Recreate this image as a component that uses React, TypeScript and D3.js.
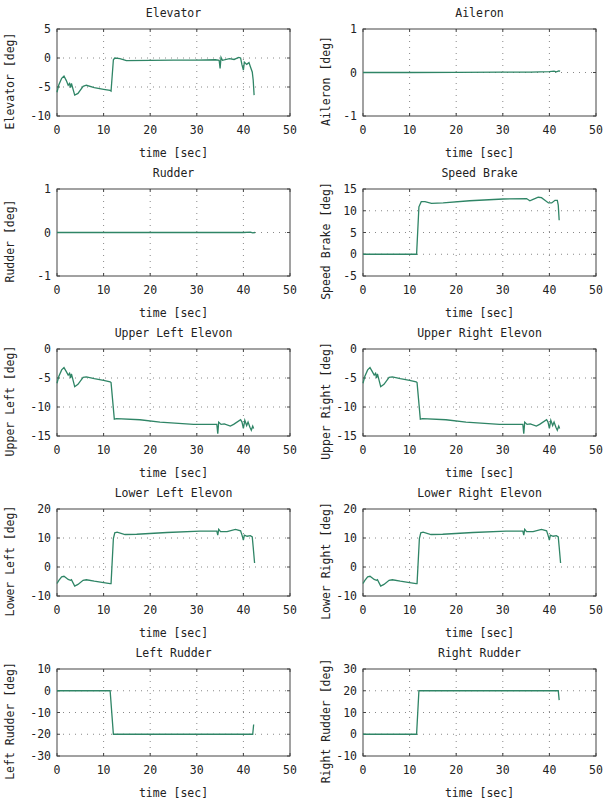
import React from "react";
import * as d3 from "d3";

// time [sec] / deflection [deg] pairs
const elevatorT = [0, 0.4, 1.0, 1.5, 2.0, 2.4, 2.7, 2.9, 3.1, 3.8, 4.5, 5.6, 6.3, 8.0, 10.0, 11.4, 11.6, 12.1, 12.4, 13.5, 14.9, 20, 25, 30, 34.0, 34.8, 35.0, 35.2, 35.5, 37.0, 38.0, 39.0, 39.4, 39.7, 40.0, 40.2, 40.7, 41.2, 41.5, 41.9, 42.1, 42.3];
const elevatorV = [-5.9, -4.6, -3.5, -3.1, -3.9, -4.7, -4.4, -5.1, -4.4, -6.4, -6.1, -4.9, -4.7, -5.1, -5.4, -5.6, -5.7, -0.3, 0, -0.1, -0.45, -0.4, -0.35, -0.35, -0.3, -0.4, -1.8, 0.1, -0.4, -0.1, -0.25, 0.1, 0, -1.2, -2.1, -0.7, -1.1, -0.8, -1.5, -2.4, -3.8, -6.4];

const aileronT = [0, 10, 20, 30, 36, 38, 40, 41, 41.5, 42, 42.3];
const aileronV = [0, 0, 0.005, 0.01, 0.01, 0.015, 0.02, 0.03, 0.015, 0.035, 0.03];

const rudderT = [0, 20, 40, 41.5, 42.0, 42.5];
const rudderV = [0, 0, 0, 0.01, -0.01, 0];

const speedBrakeT = [0, 11.5, 12.0, 12.5, 13.3, 14.7, 17.2, 22.9, 30.1, 35.1, 35.8, 36.5, 37.6, 38.3, 39.8, 40.5, 41.2, 41.7, 41.9, 42.1];
const speedBrakeV = [0, 0, 10.9, 12.1, 12.1, 11.7, 11.8, 12.3, 12.7, 12.8, 12.3, 12.6, 13.1, 13.0, 11.8, 11.8, 12.4, 12.4, 11.3, 7.8];

const upperT = [0, 0.4, 1.0, 1.5, 2.0, 2.4, 2.7, 2.9, 3.1, 3.8, 4.5, 5.6, 6.3, 8.0, 10.0, 11.4, 11.6, 12.3, 12.8, 17.8, 22.1, 29.3, 34.3, 34.5, 34.7, 35.2, 35.9, 37.2, 37.9, 39.4, 39.7, 40.0, 40.3, 40.7, 41.0, 41.4, 41.7, 42.0, 42.2];
const upperLeftV = [-5.9, -4.7, -3.6, -3.2, -3.9, -4.5, -4.2, -5.0, -4.3, -6.5, -6.1, -4.9, -4.8, -5.1, -5.4, -5.65, -5.8, -12.1, -12.0, -12.2, -12.6, -13.0, -13.0, -14.6, -12.6, -13.0, -12.9, -13.3, -13.0, -12.2, -12.6, -13.7, -12.3, -13.2, -12.6, -13.5, -14.0, -13.3, -13.7];
const upperRightV = [-5.9, -4.7, -3.6, -3.2, -3.9, -4.5, -4.2, -5.0, -4.3, -6.5, -6.1, -4.9, -4.8, -5.1, -5.4, -5.65, -5.8, -12.1, -12.0, -12.2, -12.6, -13.0, -13.0, -14.6, -12.6, -13.0, -12.9, -13.3, -13.0, -12.2, -12.6, -13.7, -12.3, -13.2, -12.6, -13.5, -14.0, -13.3, -13.7];

const lowerT = [0, 0.4, 1.0, 1.5, 2.0, 2.4, 2.9, 3.1, 3.8, 4.5, 5.6, 6.3, 8.0, 10.0, 11.4, 11.6, 12.1, 12.4, 12.9, 14.6, 17.1, 23.6, 30.7, 34.3, 34.5, 34.7, 35.1, 36.5, 38.3, 39.4, 39.7, 40.0, 40.2, 40.8, 41.5, 41.9, 42.1, 42.4];
const lowerLeftV = [-5.7, -4.6, -3.4, -3.2, -3.8, -4.3, -4.6, -4.4, -6.6, -6.0, -4.6, -4.4, -4.9, -5.4, -5.7, -5.7, 9.8, 11.8, 12.0, 11.2, 11.3, 11.9, 12.4, 12.4, 11.0, 13.0, 12.2, 12.2, 13.0, 12.5, 11.0, 9.3, 11.0, 10.6, 10.8, 10.4, 6.9, 1.4];
const lowerRightV = [-5.7, -4.6, -3.4, -3.2, -3.8, -4.3, -4.6, -4.4, -6.6, -6.0, -4.6, -4.4, -4.9, -5.4, -5.7, -5.7, 9.8, 11.8, 12.0, 11.2, 11.3, 11.9, 12.4, 12.4, 11.0, 13.0, 12.2, 12.2, 13.0, 12.5, 11.0, 9.3, 11.0, 10.6, 10.8, 10.4, 6.9, 1.4];

const leftRudderT = [0, 11.4, 12.1, 42.0, 42.2];
const leftRudderV = [0, 0, -20, -20, -15.5];

const rightRudderT = [0, 11.5, 12.0, 41.9, 42.1];
const rightRudderV = [0, 0, 20, 20, 15.7];

const titles = ["Elevator", "Aileron", "Rudder", "Speed Brake", "Upper Left Elevon", "Upper Right Elevon", "Lower Left Elevon", "Lower Right Elevon", "Left Rudder", "Right Rudder"];
const yLabels = ["Elevator [deg]", "Aileron [deg]", "Rudder [deg]", "Speed Brake [deg]", "Upper Left [deg]", "Upper Right [deg]", "Lower Left [deg]", "Lower Right [deg]", "Left Rudder [deg]", "Right Rudder [deg]"];
const yTicks = [
  [-10, -5, 0, 5],
  [-1, 0, 1],
  [-1, 0, 1],
  [-5, 0, 5, 10, 15],
  [-15, -10, -5, 0],
  [-15, -10, -5, 0],
  [-10, 0, 10, 20],
  [-10, 0, 10, 20],
  [-30, -20, -10, 0, 10],
  [-10, 0, 10, 20, 30],
];
const xTicks = [0, 10, 20, 30, 40, 50];
const series = [
  [elevatorT, elevatorV],
  [aileronT, aileronV],
  [rudderT, rudderV],
  [speedBrakeT, speedBrakeV],
  [upperT, upperLeftV],
  [upperT, upperRightV],
  [lowerT, lowerLeftV],
  [lowerT, lowerRightV],
  [leftRudderT, leftRudderV],
  [rightRudderT, rightRudderV],
];

const W = 606;
const H = 800;
const FONT = "'DejaVu Sans Mono', monospace";
const LINE = "#2f8566";

function Panel({ idx }: { idx: number }) {
  const col = idx % 2;
  const row = Math.floor(idx / 2);
  const left = col === 0 ? 57 : 363;
  const top = 29 + row * 160;
  const w = 233;
  const h = 87;
  const ticks = yTicks[idx];

  const x = d3.scaleLinear().domain([0, 50]).range([left, left + w]);
  const y = d3
    .scaleLinear()
    .domain([ticks[0], ticks[ticks.length - 1]])
    .range([top + h, top]);

  const [ts, vs] = series[idx];
  const pts = ts.map((t, i) => [t, vs[i]] as [number, number]);
  const line = d3
    .line<[number, number]>()
    .x((d) => x(d[0]))
    .y((d) => y(d[1]));

  const labelX = col === 0 ? 10 : 326;
  const labelY = top + 52;

  return (
    <g>
      <text x={left + w / 2} y={top - 12} textAnchor="middle" fontSize={11.5} fill="#222" fontFamily={FONT}>
        {titles[idx]}
      </text>
      {/* dotted grid */}
      {xTicks.slice(1, -1).map((t) => (
        <line key={"gx" + t} x1={x(t)} x2={x(t)} y1={top} y2={top + h} stroke="#888" strokeWidth={1} strokeDasharray="1,5" />
      ))}
      {ticks.slice(1, -1).map((t) => (
        <line key={"gy" + t} x1={left} x2={left + w} y1={y(t)} y2={y(t)} stroke="#888" strokeWidth={1} strokeDasharray="1,5" />
      ))}
      {/* inward ticks */}
      {xTicks.map((t) => (
        <g key={"tx" + t}>
          <line x1={x(t)} x2={x(t)} y1={top + h} y2={top + h - 3} stroke="#444" />
          <line x1={x(t)} x2={x(t)} y1={top} y2={top + 3} stroke="#444" />
          <text x={x(t)} y={top + h + 18} textAnchor="middle" fontSize={11.5} fill="#222" fontFamily={FONT}>
            {t}
          </text>
        </g>
      ))}
      {ticks.map((t) => (
        <g key={"ty" + t}>
          <line x1={left} x2={left + 3} y1={y(t)} y2={y(t)} stroke="#444" />
          <line x1={left + w} x2={left + w - 3} y1={y(t)} y2={y(t)} stroke="#444" />
          <text x={left - 6} y={y(t)} dy="0.35em" textAnchor="end" fontSize={11.5} fill="#222" fontFamily={FONT}>
            {t}
          </text>
        </g>
      ))}
      <rect x={left} y={top} width={w} height={h} fill="none" stroke="#444" strokeWidth={1} />
      <path d={line(pts) ?? ""} fill="none" stroke={LINE} strokeWidth={1.3} />
      <text x={left + w / 2} y={top + h + 41} textAnchor="middle" fontSize={11.5} fill="#222" fontFamily={FONT}>
        time [sec]
      </text>
      <text
        transform={`translate(${labelX},${labelY}) rotate(-90)`}
        dy="0.35em"
        textAnchor="middle"
        fontSize={11.5}
        fill="#222"
        fontFamily={FONT}
      >
        {yLabels[idx]}
      </text>
    </g>
  );
}

export default function App() {
  return (
    <svg width={W} height={H} style={{ position: "absolute", left: 0, top: 0, background: "#fff" }}>
      <rect width={W} height={H} fill="#fff" />
      {titles.map((_, i) => (
        <Panel key={i} idx={i} />
      ))}
    </svg>
  );
}
